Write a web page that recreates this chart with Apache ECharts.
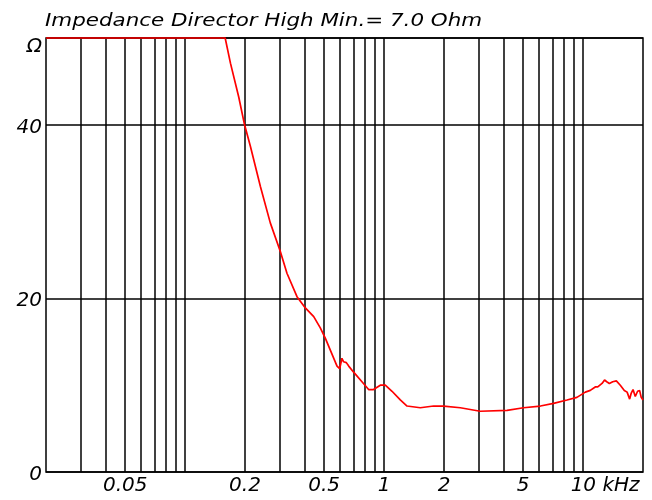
<!DOCTYPE html>
<html>
<head>
<meta charset="utf-8">
<script src="https://cdn.jsdelivr.net/npm/echarts@6/dist/echarts.min.js"></script>
<style>
  html, body { margin: 0; padding: 0; background: #fff; }
  #chart { width: 652px; height: 500px; }
</style>
</head>
<body>
<div id="chart"></div>
<script>
// Impedance curve of the "Director High" driver (frequency in kHz, impedance in ohm)
const freqKHz = [0.02, 0.05, 0.1, 0.159, 0.169, 0.186, 0.199, 0.213, 0.239, 0.268,
  0.301, 0.325, 0.365, 0.402, 0.443, 0.478, 0.507, 0.580, 0.598, 0.614, 0.626, 0.646,
  0.664, 0.703, 0.774, 0.836, 0.885, 0.957, 1.014, 1.096, 1.206, 1.304, 1.520, 1.774,
  1.99, 2.416, 3.04, 4.15, 5.02, 6.10, 7.11, 8.30, 9.31, 10.26, 10.87, 11.51,
  11.85, 12.45, 12.82, 13.15, 13.55, 14.09, 14.69, 15.38, 16.11, 16.64, 17.14, 17.46,
  17.82, 18.29, 18.79, 19.23, 19.59, 20];
const impedance = [50, 50, 50, 50, 47.1, 43.2, 40.0, 37.5, 32.9, 28.7,
  25.4, 22.9, 20.2, 18.9, 17.9, 16.6, 15.4, 12.2, 11.9, 13.1, 12.7, 12.6,
  12.2, 11.5, 10.4, 9.5, 9.5, 10.0, 10.0, 9.3, 8.3, 7.6, 7.4, 7.6,
  7.6, 7.4, 7.0, 7.1, 7.4, 7.6, 7.9, 8.3, 8.6, 9.2, 9.4, 9.8,
  9.8, 10.2, 10.6, 10.4, 10.2, 10.4, 10.5, 10.0, 9.4, 9.2, 8.4, 9.1,
  9.5, 8.7, 9.3, 9.4, 8.6, 8.3];

// Log-frequency grid (decades split at 2..9) and the labelled frequencies
const gridFreqs = [0.03, 0.04, 0.05, 0.06, 0.07, 0.08, 0.09, 0.1,
  0.2, 0.3, 0.4, 0.5, 0.6, 0.7, 0.8, 0.9, 1,
  2, 3, 4, 5, 6, 7, 8, 9, 10];
const labelFreqs = [0.05, 0.2, 0.5, 1, 2, 5, 10];
const labelTexts = ['0.05', '0.2', '0.5', '1', '2', '5', '10 kHz'];

const titleText = 'Impedance Director High Min.= 7.0 Ohm';
const FONT_FAMILY = '"DejaVu Sans", sans-serif';
const LABEL_SIZE = 20;

const chart = echarts.init(document.getElementById('chart'), null, { renderer: 'canvas' });

const gridMarks = gridFreqs.map(function (f) {
  const i = labelFreqs.indexOf(f);
  const item = { xAxis: f };
  if (i >= 0) {
    item.label = {
      show: true,
      formatter: labelTexts[i],
      padding: f === 10 ? [0, 0, 0, 44] : 0
    };
  } else {
    item.label = { show: false };
  }
  return item;
});

chart.setOption({
  animation: false,
  backgroundColor: '#fff',
  graphic: [{
    type: 'text',
    x: 45,
    y: 12,
    scaleX: 1.19,
    style: {
      text: titleText,
      font: 'italic 18px ' + FONT_FAMILY,
      fill: '#000',
      textAlign: 'left',
      textVerticalAlign: 'top'
    }
  }],
  grid: {
    left: 46, right: 9, top: 38, bottom: 28,
    show: true,
    borderColor: '#000',
    borderWidth: 1.5,
    backgroundColor: '#fff'
  },
  xAxis: {
    type: 'log',
    logBase: 10,
    min: 0.02,
    max: 20,
    axisLine: { show: false },
    axisTick: { show: false },
    axisLabel: { show: false },
    splitLine: { show: false }
  },
  yAxis: {
    type: 'value',
    min: 0,
    max: 50,
    interval: 20,
    axisLine: { show: false },
    axisTick: { show: false },
    splitLine: { show: true, lineStyle: { color: '#000', width: 1.5 } },
    axisLabel: {
      margin: 4,
      color: '#000',
      fontStyle: 'italic',
      fontFamily: FONT_FAMILY,
      fontSize: LABEL_SIZE,
      padding: [5, 0, 0, 0],
      formatter: function (v) { return v === 50 ? '{o|Ω}' : String(v); },
      rich: {
        o: { fontStyle: 'italic', fontFamily: FONT_FAMILY, fontSize: LABEL_SIZE, color: '#000', padding: [12, 0, 0, 0] }
      }
    }
  },
  series: [
    {
      // vertical grid lines and frequency labels
      type: 'line',
      data: [],
      z: 1,
      silent: true,
      markLine: {
        silent: true,
        symbol: 'none',
        animation: false,
        lineStyle: { color: '#000', width: 1.5, type: 'solid' },
        label: {
          position: 'start',
          distance: 4,
          color: '#000',
          fontStyle: 'italic',
          fontFamily: FONT_FAMILY,
          fontSize: LABEL_SIZE
        },
        emphasis: { disabled: true },
        data: gridMarks
      }
    },
    {
      type: 'line',
      z: 5,
      clip: false,
      symbol: 'none',
      silent: true,
      lineStyle: { color: '#ff0000', width: 1.7 },
      data: freqKHz.map(function (f, i) { return [f, impedance[i]]; })
    }
  ]
});
</script>
</body>
</html>
